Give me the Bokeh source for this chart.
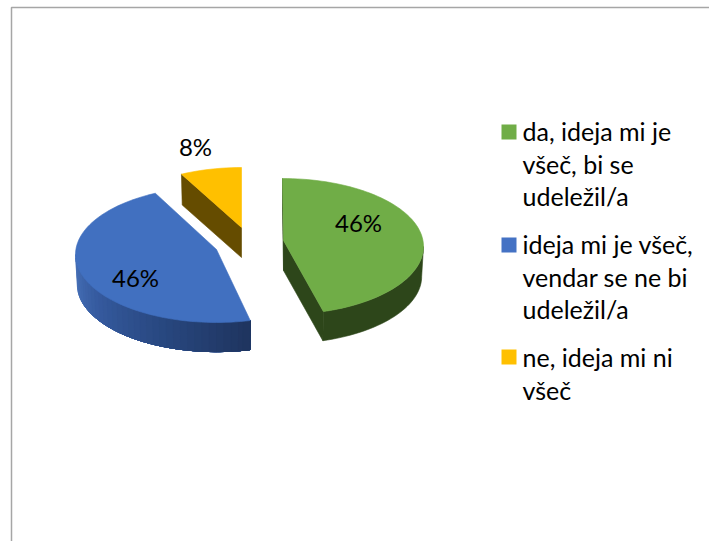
from math import sin, cos, radians
from bokeh.plotting import figure
from bokeh.core.properties import value
from bokeh.embed import file_html
from bokeh.resources import INLINE

categories = ["da, ideja mi je všeč, bi se udeležil/a",
              "ideja mi je všeč, vendar se ne bi udeležil/a",
              "ne, ideja mi ni všeč"]
shares = [46.15, 46.15, 7.70]
pct_labels = ["46%", "46%", "8%"]
legend_lines = [["da, ideja mi je", "všeč, bi se", "udeležil/a"],
                ["ideja mi je všeč,", "vendar se ne bi", "udeležil/a"],
                ["ne, ideja mi ni", "všeč"]]
top_colors = ["#70ad47", "#4170c0", "#ffc000"]
legend_colors = ["#70ad47", "#4472c4", "#ffc000"]
side_colors = ["#2d461a", "#2c4a85", "#654c00"]

# layout (page pixels); the skews stand in for the reference's perspective
RX, DEPTH, SHRINK = 141, 30, 0.987
radii_y = [68, 68, 70]
centers = [(282, 246), (216, 254), (241, 237)]
apexes = [(283, 240), (216, 249), (241, 227)]
skews = [(0, -3), (0, 2), (2.5, 0)]
label_pos = [(358, 222), (135, 277), (195, 146)]
legend_y = [130.5, 243.5, 356.5]
legend_swatch_y = [131.5, 244.5, 356.5]
LINE_H = 32.7
FONT = "Lato"
FSIZE = "25px"
PCT_SIZE = "24px"
GRAY = "#a6a6a6"

p = figure(width=709, height=541, x_range=(0, 709), y_range=(541, 0),
           output_backend="svg", toolbar_location=None, min_border=0,
           x_axis_type=None, y_axis_type=None)
p.grid.visible = False
p.outline_line_color = None
p.background_fill_color = "white"


def pt(c, ry, ang, scale=1.0, dy=0.0):
    a = radians(ang)
    return c[0] + RX * scale * sin(a), c[1] - ry * scale * cos(a) + dy


def mix(c1, c2, t):
    a = [int(c1[i:i + 2], 16) for i in (1, 3, 5)]
    b = [int(c2[i:i + 2], 16) for i in (1, 3, 5)]
    return "#%02x%02x%02x" % tuple(round(x + (y - x) * t) for x, y in zip(a, b))


def blue_side(ang):
    stops = [(166, "#1f3560"), (200, "#28477f"), (235, "#355a9e"), (270, "#4a74bc")]
    for (a0, c0), (a1, c1) in zip(stops, stops[1:]):
        if ang <= a1:
            return mix(c0, c1, max(0, (ang - a0) / (a1 - a0)))
    return stops[-1][1]


def poly(xs, ys, color):
    p.patch(xs, ys, fill_color=color, line_color=color, line_width=0.6)


def wall(c, ry, v0, v1, color):
    """Outer wall between two angles, as one polygon."""
    n = max(2, int((v1 - v0) / 2))
    angs = [v0 + (v1 - v0) * k / n for k in range(n + 1)]
    up = [pt(c, ry, a) for a in angs]
    lo = [pt(c, ry, a, SHRINK, DEPTH) for a in reversed(angs)]
    poly([q[0] for q in up + lo], [q[1] for q in up + lo], color)


extents = []
start = 0.0
for s, (d0, d1) in zip(shares, skews):
    extents.append((start + d0, start + s * 3.6 + d1))
    start += s * 3.6

for i in (2, 1, 0):
    a0, a1 = extents[i]
    c, ap, ry = centers[i], apexes[i], radii_y[i]
    for ang in (a0, a1):
        ex, ey = pt(c, ry, ang)
        bx, by = pt(c, ry, ang, SHRINK, DEPTH)
        if i == 0 or (i == 2 and ang == a0):
            poly([ap[0], ex, bx, ap[0]], [ap[1], ey, by, ap[1] + DEPTH], side_colors[i])
    v0, v1 = max(a0, 90), min(a1, 270)
    if i == 1:
        # gradient wall: nested polygons, so no seams appear between bands
        ang = v1
        while ang > v0 + 1e-6:
            ang = max(ang - 3, v0)
            wall(c, ry, v0, ang + 3 if ang + 3 < v1 else v1, blue_side(ang))
    elif v1 > v0:
        wall(c, ry, v0, v1, side_colors[i])
    n = max(2, int((a1 - a0) / 2))
    arc = [pt(c, ry, a0 + (a1 - a0) * k / n) for k in range(n + 1)]
    poly([ap[0]] + [q[0] for q in arc], [ap[1]] + [q[1] for q in arc], top_colors[i])

for (x, y), t in zip(label_pos, pct_labels):
    p.text([x], [y], text=[t], text_font=value(FONT), text_font_size=PCT_SIZE,
           text_color="#000000", text_align="center", text_baseline="middle")

for y0, ys, lines, col in zip(legend_y, legend_swatch_y, legend_lines, legend_colors):
    p.rect([508.5], [ys], width=15, height=15, fill_color=col, line_color=None)
    for k, t in enumerate(lines):
        p.text([522], [y0 + k * LINE_H], text=[t], text_font=value(FONT), text_font_size=FSIZE,
               text_color="#000000", text_align="left", text_baseline="alphabetic")

p.line([11, 11, 709], [541, 7, 7], line_color=GRAY, line_width=1.5)

open("out.html", "w").write(file_html(p, INLINE))
